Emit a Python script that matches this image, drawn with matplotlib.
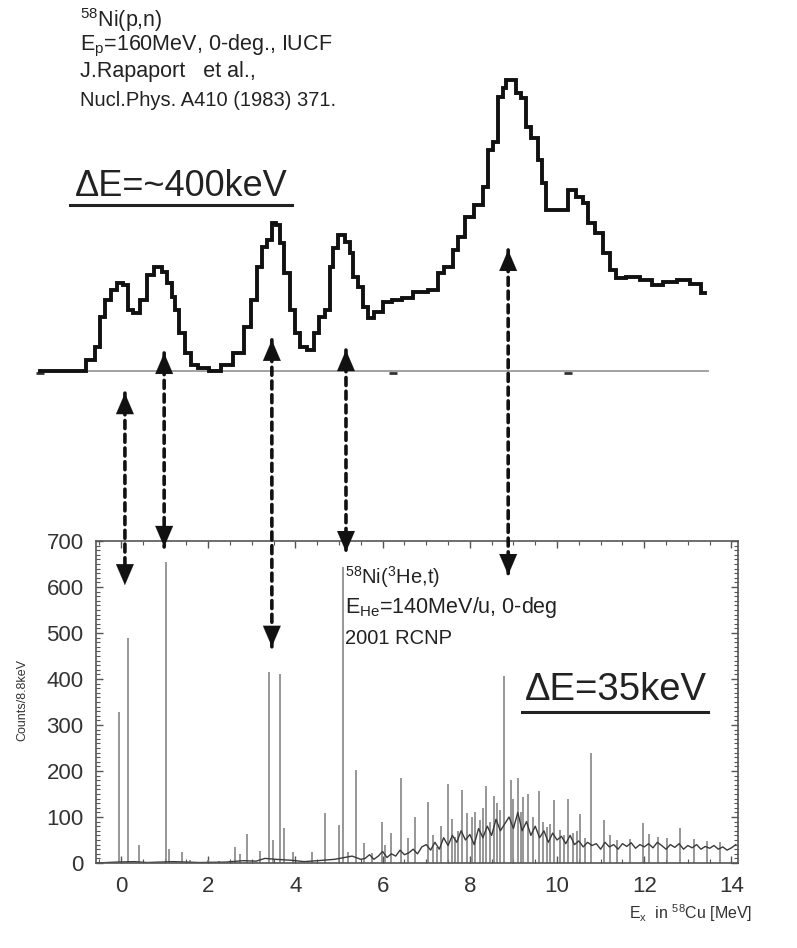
import numpy as np
import matplotlib
matplotlib.use('Agg')
import matplotlib.pyplot as plt
from matplotlib.ticker import MultipleLocator
from matplotlib.lines import Line2D
from matplotlib.patches import ConnectionPatch

plt.rcParams['font.family'] = ['Liberation Sans', 'DejaVu Sans']
plt.rcParams['mathtext.default'] = 'regular'

# ---------------- data ----------------
# upper (p,n) spectrum, Ex in MeV, relative yield (peak = 100)
top_E = [-1.86, -0.94, -0.67, -0.52, -0.44, -0.29, -0.18, -0.02, 0.13, 0.21,
         0.36, 0.51, 0.67, 0.86, 1.01, 1.12, 1.20, 1.28, 1.39, 1.54,
         1.66, 1.89, 2.16, 2.42, 2.73, 2.92, 3.03, 3.19, 3.26, 3.42,
         3.49, 3.61, 3.69, 3.80, 3.95, 4.03, 4.18, 4.37, 4.49, 4.60,
         4.75, 4.83, 4.91, 5.06, 5.21, 5.29, 5.37, 5.48, 5.60, 5.71,
         5.90, 6.13, 6.32, 6.55, 6.86, 7.24, 7.28, 7.55, 7.66, 7.81,
         7.97, 8.23, 8.39, 8.46, 8.62, 8.69, 8.81, 8.83, 9.04, 9.08,
         9.27, 9.31, 9.50, 9.61, 9.72, 9.79, 10.18, 10.34, 10.53, 10.68,
         10.76, 10.99, 11.14, 11.29, 11.41, 11.75, 12.06, 12.29, 12.59, 12.90,
         13.20, 13.39]
top_Y = [0, 0, 3.8, 8.4, 18.7, 24.4, 27.8, 30.2, 29.6, 21.0,
         19.8, 24.4, 33.0, 35.8, 34.1, 30.2, 25.5, 21.0, 13.1, 6.2,
         2.1, 0.9, 0, 2.1, 6.1, 15.2, 24.4, 35.8, 42.7, 45.0,
         50.8, 50.2, 43.9, 33.6, 21.0, 13.1, 8.4, 7.2, 13.0, 18.7,
         21.0, 35.8, 42.2, 46.7, 44.4, 40.4, 32.4, 29.0, 22.1, 18.1,
         20.4, 23.8, 24.4, 25.1, 27.3, 27.8, 33.6, 35.8, 41.6, 46.2,
         53.0, 57.0, 63.3, 75.9, 78.8, 94.3, 97.1, 100, 100, 95.4,
         93.7, 84.0, 80.0, 72.5, 64.5, 55.3, 55.3, 62.2, 59.9, 57.7,
         50.9, 47.4, 40.5, 34.7, 32.0, 32.4, 31.3, 29.6, 30.7, 31.3,
         29.9, 26.7]
baseline_E = [-1.86, 13.47]
baseline_marks = [-1.85, 6.24, 10.25]

# lower (3He,t) spectrum: sharp peaks (Ex, counts)
peak_E = [-0.05, 0.17, 0.42, 1.03, 1.10, 1.39, 1.58, 2.00, 2.25, 2.61,
          2.73, 2.90, 3.19, 3.40, 3.48, 3.65, 3.74, 3.95, 4.39, 4.68,
          5.01, 5.10, 5.21, 5.39, 5.57, 5.75, 5.98, 6.19, 6.42, 6.74,
          7.03, 7.24, 7.49, 7.66, 7.81, 7.93, 8.04, 8.23, 8.37, 8.56,
          8.69, 8.79, 8.94, 9.11, 9.23, 9.34, 9.59, 9.76, 9.93, 10.07,
          10.24, 10.37, 10.53, 10.78, 11.08, 11.37, 11.67, 11.96, 12.32, 12.52,
          12.82, 13.13, 13.43, 13.74,
          6.05, 6.58, 7.15, 7.35, 7.58, 7.72, 8.12, 8.30, 8.47, 8.62,
          9.00, 9.17, 9.45, 9.68, 9.85, 10.15, 10.45, 10.65, 11.22, 12.10]
peak_counts = [329, 489, 39, 655, 30, 25, 7, 7, 5, 35,
               20, 63, 27, 416, 50, 410, 76, 25, 25, 109,
               83, 643, 25, 202, 43, 22, 90, 65, 185, 101,
               133, 35, 172, 57, 159, 108, 101, 93, 167, 145,
               115, 406, 180, 185, 144, 150, 157, 79, 137, 72,
               140, 65, 107, 240, 93, 50, 53, 88, 57, 55,
               77, 53, 48, 45,
               40, 55, 60, 80, 95, 70, 110, 120, 90, 130,
               140, 110, 100, 90, 85, 60, 70, 55, 60, 62]
# continuum under the peaks
bg_E = [-0.57, -0.1, 0.3, 0.6, 1.2, 1.8, 2.4, 2.8, 3.1, 3.3, 3.55, 3.9, 4.2, 4.5, 4.9, 5.3, 5.5,
        5.6, 5.7, 5.8, 5.9, 6.0, 6.1, 6.2, 6.3, 6.4, 6.5, 6.6, 6.7, 6.8, 6.9,
        7.0, 7.1, 7.2, 7.3, 7.4, 7.5, 7.6, 7.7, 7.8, 7.9,
        8.0, 8.1, 8.2, 8.3, 8.4, 8.5, 8.6, 8.7, 8.8, 8.9,
        9.0, 9.1, 9.2, 9.3, 9.4, 9.5, 9.6, 9.7, 9.8, 9.9,
        10.0, 10.1, 10.2, 10.3, 10.4, 10.5, 10.6, 10.7, 10.8, 10.9,
        11.0, 11.1, 11.2, 11.3, 11.4, 11.5, 11.6, 11.7, 11.8, 11.9,
        12.0, 12.1, 12.2, 12.3, 12.4, 12.5, 12.6, 12.7, 12.8, 12.9,
        13.0, 13.1, 13.2, 13.3, 13.4, 13.5, 13.6, 13.7, 13.8, 13.9,
        14.0, 14.1]
bg_counts = [0, 2, 3, 1, 3, 1, 2, 5, 4, 10, 8, 6, 3, 5, 8, 15, 8,
             10, 18, 8, 15, 25, 12, 20, 15, 28, 18, 22, 30, 20, 35,
             40, 28, 45, 30, 55, 38, 60, 45, 70, 50,
             62, 40, 75, 55, 80, 60, 95, 70, 85, 100,
             75, 110, 70, 90, 60, 80, 55, 70, 45, 65,
             50, 58, 42, 60, 40, 48, 35, 45, 38, 42,
             30, 45, 35, 40, 30, 42, 36, 44, 32, 40,
             35, 42, 33, 45, 38, 30, 40, 34, 42, 30,
             38, 33, 40, 30, 36, 32, 38, 30, 35, 28,
             33, 40]

# correspondence arrows: Ex, upper tip (yield units), lower tip (counts)
arrow_E = [0.09, 0.99, 3.46, 5.16, 8.88]
arrow_top = [-7.6, 6.2, 10.7, 7.2, 41.6]
arrow_bot = [604, 687, 470, 676, 626]

xticks = [0, 2, 4, 6, 8, 10, 12, 14]
yticks = [0, 100, 200, 300, 400, 500, 600, 700]

# ---------------- figure ----------------
W, H = 797, 948
fig = plt.figure(figsize=(W / 100, H / 100), dpi=100)


def fx(x):
    return x / W


def fy(y):
    return 1 - y / H


ax = fig.add_axes([fx(96), fy(863), (738 - 96) / W, (863 - 541) / H])
ax.set_xlim(-0.573, 14.15)
ax.set_ylim(0, 700)
ax.vlines(peak_E, 0, peak_counts, color='#858585', lw=1.2)
ax.plot(bg_E, bg_counts, color='#3a3a3a', lw=1.0)
ax.set_xticks(xticks)
ax.set_yticks(yticks)
ax.xaxis.set_minor_locator(MultipleLocator(0.5))
ax.yaxis.set_minor_locator(MultipleLocator(10))
ax.tick_params(which='both', direction='in', top=True, right=True, color='#555')
ax.tick_params(which='major', length=5, width=1, labelsize=16, labelcolor='#333')
ax.tick_params(which='minor', length=3, width=0.8)
ax.tick_params(axis='x', pad=9)
ax.tick_params(axis='y', pad=9)
for s in ax.spines.values():
    s.set_color('#555')
    s.set_linewidth(1.2)

# overlay axes covering the whole figure, same Ex scale
ov = fig.add_axes([0, 0, 1, 1])
ov.set_xlim(-121 / 43.6, (W - 121) / 43.6)
ov.set_ylim((371 - H) / 2.91, 371 / 2.91)
ov.axis('off')
ov.patch.set_alpha(0)

ov.plot(baseline_E, [0, 0], color='#9a9a9a', lw=1.3)
ov.plot(baseline_marks, [-0.6] * len(baseline_marks), ls='none', marker='_', ms=6, mew=2, color='#333')
ov.plot(top_E, top_Y, drawstyle='steps-mid', color='#111', lw=2.8, solid_joinstyle='miter')

head = dict(arrowstyle='-|>,head_length=0.75,head_width=0.32', lw=0.1, color='#111',
            shrinkA=0, shrinkB=0, mutation_scale=20)
for e, t, b in zip(arrow_E, arrow_top, arrow_bot):
    con = ConnectionPatch(xyA=(e, t), coordsA=ov.transData, xyB=(e, b), coordsB=ax.transData,
                          color='#111', lw=2.6, linestyle=(0, (2.2, 1.6)))
    con.set_clip_on(False)
    fig.add_artist(con)
    ov.annotate('', xy=(e, t), xycoords=ov.transData, xytext=(0, -15), textcoords='offset points',
                arrowprops=head, annotation_clip=False)
    ov.annotate('', xy=(e, b), xycoords=ax.transData, xytext=(0, 15), textcoords='offset points',
                arrowprops=head, annotation_clip=False)

# texts upper part
fig.text(fx(80), fy(20), r'$^{58}$Ni(p,n)', fontsize=15.5, va='center', ha='left', color='#222')
fig.text(fx(80), fy(46), r'E$_p$=160MeV, 0-deg., IUCF', fontsize=15.5, va='center', ha='left', color='#222')
fig.text(fx(80), fy(72), 'J.Rapaport   et al.,', fontsize=15.5, va='center', ha='left', color='#222')
fig.text(fx(80), fy(100), 'Nucl.Phys. A410 (1983) 371.', fontsize=14.5, va='center', ha='left', color='#222')
fig.text(fx(75), fy(187), 'ΔE=~400keV', fontsize=26, va='center', ha='left', color='#222')
fig.add_artist(Line2D([fx(70), fx(292)], [fy(205), fy(205)], transform=fig.transFigure, color='#222', lw=2.2))

# texts lower part
fig.text(fx(345), fy(577), r'$^{58}$Ni($^3$He,t)', fontsize=14.5, va='center', ha='left', color='#222')
fig.text(fx(345), fy(607), r'E$_{He}$=140MeV/u, 0-deg', fontsize=15.5, va='center', ha='left', color='#222')
fig.text(fx(345), fy(638), '2001 RCNP', fontsize=14.5, va='center', ha='left', color='#222')
fig.text(fx(525), fy(690), 'ΔE=35keV', fontsize=27.5, va='center', ha='left', color='#222')
fig.add_artist(Line2D([fx(522), fx(708)], [fy(712), fy(712)], transform=fig.transFigure, color='#222', lw=2.2))

fig.text(fx(22), fy(700), 'Counts/8.8keV', rotation=90, fontsize=9, ha='center', va='center', color='#333')
fig.text(fx(752), fy(913), r'E$_x$  in $^{58}$Cu [MeV]', fontsize=11.5, ha='right', va='center', color='#333')

fig.savefig('out.png', dpi=100)
